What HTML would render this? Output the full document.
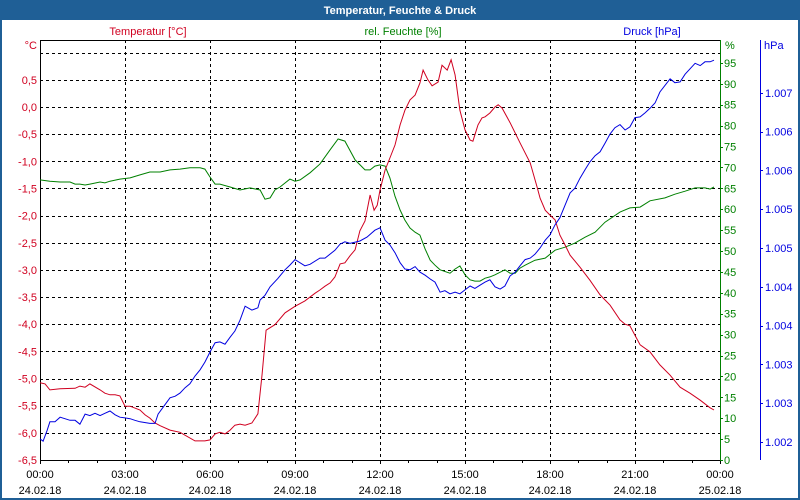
<!DOCTYPE html>
<html><head><meta charset="utf-8"><style>
html,body{margin:0;padding:0;background:#fff;}
#wrap{position:relative;width:800px;height:500px;overflow:hidden;background:#fff;font-family:"Liberation Sans",sans-serif;}
svg text{font-family:"Liberation Sans",sans-serif;font-size:11px;}
</style></head><body>
<div id="wrap">
<svg id="chart" width="800" height="500"></svg>
</div>
<script>
// ---- data ----
const timeTickLabels = ["00:00","03:00","06:00","09:00","12:00","15:00","18:00","21:00","00:00"];
const dateTickLabels = ["24.02.18","24.02.18","24.02.18","24.02.18","24.02.18","24.02.18","24.02.18","24.02.18","25.02.18"];
const tempTicks = [0.5,0.0,-0.5,-1.0,-1.5,-2.0,-2.5,-3.0,-3.5,-4.0,-4.5,-5.0,-5.5,-6.0,-6.5];
const humTicks = [0,5,10,15,20,25,30,35,40,45,50,55,60,65,70,75,80,85,90,95];
const presTicks = [1002.2,1002.7,1003.2,1003.7,1004.2,1004.7,1005.2,1005.7,1006.2,1006.7];

const tempTimes = [0,0.18,0.35,0.71,1.24,1.41,1.59,1.76,2.12,2.29,2.47,2.65,2.82,3.0,3.18,3.53,3.71,3.88,4.06,4.24,4.59,4.94,5.47,5.82,6.0,6.18,6.35,6.53,6.71,6.88,7.06,7.24,7.48,7.69,7.84,7.98,8.29,8.65,9.0,9.35,9.71,9.88,10.06,10.24,10.41,10.59,10.76,10.94,11.12,11.29,11.47,11.65,11.79,11.9,12.0,12.18,12.35,12.53,12.71,12.88,13.06,13.24,13.41,13.52,13.69,13.84,14.05,14.19,14.37,14.51,14.65,14.82,15.0,15.18,15.28,15.46,15.6,15.71,15.88,16.06,16.17,16.31,16.59,16.94,17.3,17.54,17.65,17.83,18.0,18.18,18.35,18.53,18.71,19.06,19.41,19.77,20.12,20.47,20.65,20.82,21.18,21.53,21.88,22.24,22.59,22.94,23.3,23.65,23.79];
const tempValues = [-5.08,-5.10,-5.21,-5.19,-5.18,-5.14,-5.16,-5.10,-5.21,-5.27,-5.30,-5.30,-5.32,-5.51,-5.51,-5.58,-5.67,-5.73,-5.82,-5.87,-5.95,-5.99,-6.15,-6.15,-6.13,-6.02,-5.99,-6.02,-5.95,-5.86,-5.84,-5.86,-5.82,-5.65,-4.92,-4.11,-4.01,-3.79,-3.67,-3.57,-3.43,-3.37,-3.30,-3.24,-3.13,-2.89,-2.87,-2.74,-2.63,-2.28,-2.10,-1.62,-1.90,-1.81,-1.53,-1.16,-0.94,-0.70,-0.33,-0.06,0.13,0.22,0.44,0.68,0.50,0.39,0.46,0.77,0.68,0.87,0.59,-0.06,-0.42,-0.61,-0.63,-0.33,-0.20,-0.18,-0.11,0.00,0.04,-0.02,-0.29,-0.66,-1.03,-1.47,-1.68,-1.90,-1.99,-2.08,-2.36,-2.54,-2.73,-2.95,-3.19,-3.46,-3.65,-3.92,-4.00,-4.03,-4.38,-4.51,-4.75,-4.94,-5.16,-5.27,-5.40,-5.54,-5.58];

const humTimes = [0,0.35,0.71,1.06,1.24,1.41,1.59,1.76,2.12,2.29,2.47,2.82,3.18,3.53,3.88,4.24,4.59,4.94,5.29,5.65,5.82,6.0,6.18,6.35,6.71,7.06,7.41,7.77,7.94,8.12,8.29,8.47,8.82,9.0,9.18,9.53,9.88,10.24,10.52,10.76,11.12,11.47,11.65,11.82,12.0,12.18,12.35,12.53,12.71,12.88,13.06,13.24,13.41,13.59,13.77,13.94,14.12,14.47,14.65,14.82,15.0,15.18,15.35,15.53,15.71,15.88,16.06,16.41,16.59,16.77,16.94,17.12,17.47,17.83,18.18,18.53,18.88,19.24,19.59,19.94,20.47,20.82,21.18,21.53,22.06,22.41,22.77,23.12,23.47,23.65,23.79];
const humValues = [67.0,66.7,66.5,66.5,66.0,66.0,65.8,66.0,66.5,66.3,66.7,67.2,67.5,68.2,68.9,68.9,69.4,69.6,69.9,69.9,69.6,67.7,66.0,66.0,65.3,64.6,65.1,64.6,62.4,62.7,64.6,65.3,67.2,66.7,67.0,68.7,70.8,74.2,76.8,76.3,71.8,69.4,69.4,70.3,70.6,70.3,67.5,63.1,59.8,57.4,55.5,54.5,53.8,50.5,47.8,46.6,45.5,44.7,45.7,46.4,44.3,43.1,42.8,42.8,43.5,43.8,44.3,45.5,44.7,44.7,45.9,46.6,47.8,48.3,50.2,50.9,51.9,53.3,54.5,56.9,59.3,60.3,60.5,62.0,62.7,63.6,64.3,65.1,65.1,64.8,65.3];

const presTimes = [0,0.11,0.25,0.35,0.53,0.71,1.06,1.24,1.41,1.59,1.76,1.94,2.12,2.29,2.47,2.65,2.82,3.0,3.18,3.35,3.53,3.88,4.06,4.17,4.41,4.59,4.77,4.94,5.12,5.29,5.47,5.65,5.82,6.0,6.18,6.35,6.53,6.71,6.88,7.06,7.24,7.48,7.69,7.77,7.94,8.12,8.4,8.65,8.82,9.0,9.35,9.53,9.88,10.06,10.41,10.59,10.76,10.94,11.29,11.54,11.82,12.0,12.18,12.35,12.53,12.71,12.88,13.06,13.24,13.41,13.59,13.77,13.94,14.12,14.29,14.47,14.65,14.82,15.0,15.18,15.35,15.53,15.71,15.88,16.06,16.24,16.41,16.59,16.77,16.94,17.12,17.3,17.47,17.65,17.83,18.0,18.18,18.35,18.53,18.71,18.88,19.06,19.24,19.41,19.59,19.77,19.94,20.12,20.29,20.47,20.65,20.82,21.0,21.18,21.35,21.53,21.71,21.88,22.24,22.41,22.59,22.77,23.12,23.3,23.47,23.65,23.79];
const presValues = [1002.24,1002.21,1002.35,1002.46,1002.46,1002.52,1002.48,1002.48,1002.43,1002.56,1002.54,1002.57,1002.54,1002.57,1002.60,1002.55,1002.52,1002.51,1002.50,1002.48,1002.46,1002.44,1002.44,1002.56,1002.68,1002.77,1002.79,1002.83,1002.90,1002.95,1003.05,1003.13,1003.23,1003.36,1003.48,1003.49,1003.46,1003.55,1003.63,1003.77,1003.95,1003.90,1003.93,1004.03,1004.09,1004.20,1004.31,1004.42,1004.48,1004.55,1004.47,1004.49,1004.57,1004.57,1004.67,1004.75,1004.78,1004.76,1004.79,1004.84,1004.93,1004.96,1004.80,1004.74,1004.64,1004.51,1004.43,1004.42,1004.46,1004.39,1004.35,1004.30,1004.26,1004.13,1004.15,1004.11,1004.13,1004.11,1004.16,1004.21,1004.18,1004.22,1004.26,1004.29,1004.20,1004.17,1004.21,1004.34,1004.39,1004.47,1004.55,1004.57,1004.62,1004.70,1004.80,1004.87,1005.00,1005.09,1005.25,1005.41,1005.47,1005.60,1005.71,1005.81,1005.89,1005.94,1006.05,1006.17,1006.25,1006.29,1006.22,1006.26,1006.38,1006.39,1006.44,1006.50,1006.57,1006.71,1006.88,1006.83,1006.84,1006.94,1007.08,1007.05,1007.10,1007.10,1007.12];

// ---- layout / scales ----
const X0 = 40, X1 = 720, YT = 40, YB = 460;
const xScale = h => X0 + h * (X1 - X0) / 24;
const yTemp = v => 107 - v * 54.3;
const yHum = v => YB - v * 4.18;
const yPres = v => 442 - (v - 1002.2) * 77.6;
const RED = "#d00020", GREEN = "#008000", BLUE = "#0000e0";
const NS = "http://www.w3.org/2000/svg";
const svg = document.getElementById("chart");
function mk(tag, attrs, parent) {
  const e = document.createElementNS(NS, tag);
  for (const k in attrs) e.setAttribute(k, attrs[k]);
  (parent || svg).appendChild(e);
  return e;
}
function txt(x, y, s, color, anchor, parent) {
  const t = mk("text", {x: x, y: y, fill: color, "text-anchor": anchor || "start"}, parent);
  t.textContent = s;
  return t;
}

// window frame + title
const frame = mk("rect", {x: 1, y: 1, width: 798, height: 498, fill: "#fff", stroke: "#1f5f96", "stroke-width": 2});


const tb = mk("rect", {x: 0, y: 0, width: 800, height: 20, fill: "#1f5f96"});


const title = txt(400, 14, "Temperatur, Feuchte & Druck", "#fff", "middle");
title.setAttribute("font-weight", "bold");



// series headers
const h1 = txt(148, 35, "Temperatur [°C]", RED, "middle");


const h2 = txt(403, 35, "rel. Feuchte [%]", GREEN, "middle");


const h3 = txt(652, 35, "Druck [hPa]", BLUE, "middle");



// grid
const grid = mk("g", {stroke: "#000", "stroke-width": 1, "stroke-dasharray": "3,3"});


for (let i = 1; i < timeTickLabels.length - 1; i++) {
  const x = Math.round(xScale(i * 3)) + 0.5;
  mk("line", {x1: x, y1: YT, x2: x, y2: YB}, grid);
}
const gridTemps = [1.0].concat(tempTicks.slice(0, -1));
gridTemps.forEach(v => {
  const y = Math.round(yTemp(v)) + 0.5;
  mk("line", {x1: X0, y1: y, x2: X1, y2: y}, grid);
});

// axes
const ax = mk("g", {"stroke-width": 1});


mk("line", {x1: X0 + 0.5, y1: YT, x2: X0 + 0.5, y2: YB + 1, stroke: "#000"}, ax);
mk("line", {x1: X0, y1: YT + 0.5, x2: X1, y2: YT + 0.5, stroke: "#000"}, ax);
mk("line", {x1: X0, y1: YB + 0.5, x2: X1, y2: YB + 0.5, stroke: "#000"}, ax);
mk("line", {x1: X1 + 0.5, y1: YT, x2: X1 + 0.5, y2: YB + 1, stroke: GREEN}, ax);
mk("line", {x1: 760.5, y1: YT, x2: 760.5, y2: YB, stroke: BLUE}, ax);

// x ticks
const xLab = mk("g", {});


for (let h = 0; h <= 24; h++) {
  const x = Math.round(xScale(h)) + 0.5;
  mk("line", {x1: x, y1: YB, x2: x, y2: YB + (h % 3 ? 3 : 4), stroke: "#000"}, xLab);
}
timeTickLabels.forEach((s, i) => {
  const x = xScale(i * 3);
  txt(x, 478, s, "#000", "middle", xLab);
  txt(x, 494, dateTickLabels[i], "#000", "middle", xLab);
});

// temperature axis labels
const tLab = mk("g", {});


txt(37, 49, "°C", RED, "end", tLab);
tempTicks.forEach(v => {
  txt(37, yTemp(v) + 4, v.toFixed(1).replace(".", ","), RED, "end", tLab);
});

// humidity axis
const hLab = mk("g", {});


txt(725, 49, "%", GREEN, "start", hLab);
humTicks.forEach(v => {
  const y = Math.round(yHum(v)) + 0.5;
  mk("line", {x1: X1, y1: y, x2: X1 + 3, y2: y, stroke: GREEN}, hLab);
  txt(724, yHum(v) + 4, String(v), GREEN, "start", hLab);
});

// pressure axis
const pLab = mk("g", {});


txt(764, 49, "hPa", BLUE, "start", pLab);
presTicks.forEach(v => {
  const y = Math.round(yPres(v)) + 0.5;
  mk("line", {x1: 760, y1: y, x2: 763, y2: y, stroke: BLUE}, pLab);
  const r = Math.round(v);
  txt(765, yPres(v) + 4, "1." + String(r).slice(1), BLUE, "start", pLab);
});

// series
function series(times, vals, yf, color, name) {
  const d = times.map((t, i) => (i ? "L" : "M") + xScale(t).toFixed(1) + "," + yf(vals[i]).toFixed(1)).join(" ");
  const p = mk("path", {d: d, fill: "none", stroke: color, "stroke-width": 1});
  
  
}
series(humTimes, humValues, yHum, GREEN, "humidity-line");
series(tempTimes, tempValues, yTemp, RED, "temperature-line");
series(presTimes, presValues, yPres, BLUE, "pressure-line");
</script>
</body></html>
